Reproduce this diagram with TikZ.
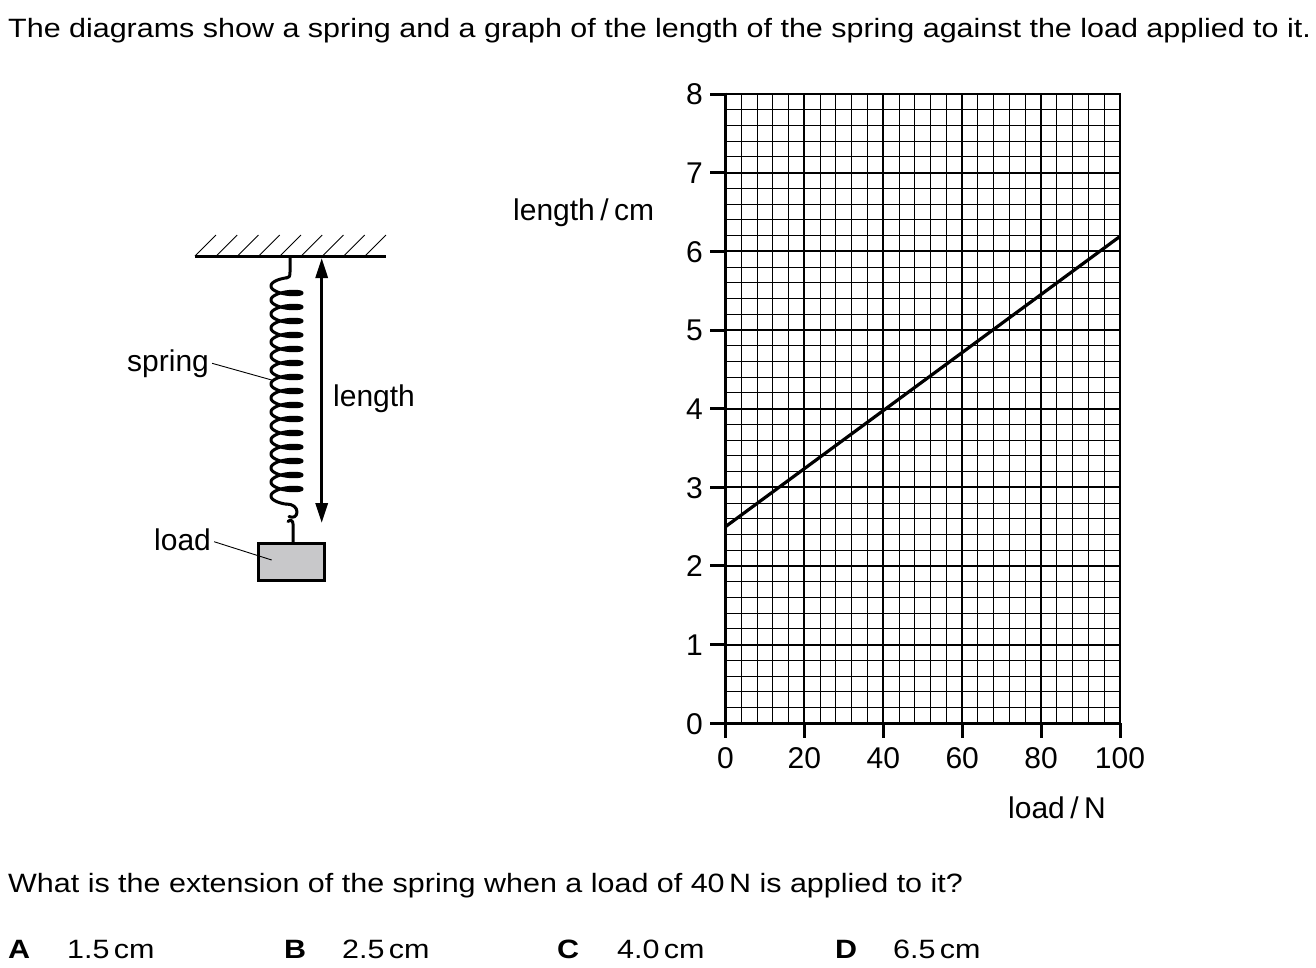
\documentclass[tikz,border=0pt]{standalone}
\usepackage{fontspec}
\setmainfont{Liberation Sans}
\newfontfamily\bodyfont[FakeStretch=1.15]{Liberation Sans}
\usetikzlibrary{arrows.meta}
\tikzset{
  minorline/.style={line width=1pt},
  majorline/.style={line width=2pt},
  axisline/.style={line width=3.5pt},
  tickline/.style={line width=3pt},
  txt/.style={inner sep=0pt, anchor=base west, font=\bodyfont\fontsize{26.5}{30}\selectfont},
  lbl/.style={inner sep=0pt, anchor=base west, font=\fontsize{30}{32}\selectfont},
  ticklbl/.style={inner sep=0pt, font=\fontsize{30}{32}\selectfont},
  leader/.style={line width=0.9pt},
  wire/.style={line width=3pt, line cap=round, line join=round},
}
\begin{document}
\begin{tikzpicture}[x=1pt,y=-1pt]
\useasboundingbox[fill=white] (0,0) rectangle (1316,967);

% ---------- texts ----------
\node[txt] (title) at (8,37.5) {The diagrams show a spring and a graph of the length of the spring against the load applied to it.};
\node[txt] (question) at (8,892.5) {What is the extension of the spring when a load of 40\,N is applied to it?};
\node[txt] (la) at (8,958.3) {\bfseries A};
\node[txt] (aa) at (67,958.3) {1.5\,cm};
\node[txt] (lb) at (284,958.3) {\bfseries B};
\node[txt] (ab) at (342,958.3) {2.5\,cm};
\node[txt] (lc) at (557,958.3) {\bfseries C};
\node[txt] (ac) at (617,958.3) {4.0\,cm};
\node[txt] (ld) at (835,958.3) {\bfseries D};
\node[txt] (ad) at (893,958.3) {6.5\,cm};

% ---------- spring diagram ----------
\draw[line width=3pt] (195,256) -- (386,256);
\foreach \k in {0,...,8} {
  \draw[line width=1pt] ({195+21.25*\k},256) -- ++(21,-21);
}
% top hook
\draw[wire] (290,257) -- (290,272) .. controls (290,276.5) and (289,278) .. (286.5,278);
% coil
\draw[wire] plot[domain=-0.5*pi:30.5*pi, samples=900, smooth, variable=\t]
  ({286.5-15.5*cos(\t r)}, {286+14*\t/(2*pi)+4.7*sin(\t r)});
% bottom hook of spring
\draw[wire] (286.5,504) .. controls (293,504) and (297,507.5) .. (297,512)
  .. controls (297,516.5) and (293,518.5) .. (289,516.5);
% load wire with hook
\draw[wire] (293,542) -- (293,524) .. controls (293,520) and (290,519.5) .. (288,521.5);
% load box
\draw[line width=3pt, fill={rgb,255:red,200;green,200;blue,202}] (258.5,543) rectangle (324,580.5);
% length arrow
\coordinate (atop) at (321.7,258);
\coordinate (abot) at (321.7,523);
\draw[line width=3pt, {Triangle[length=20pt,width=12pt]}-{Triangle[length=20pt,width=12pt]}] (atop) -- (abot);

\node[lbl] (spring) at (127,371.7) {spring};
\node[lbl] (length) at (333,406.7) {length};
\node[lbl] (load) at (154,550) {load};
\coordinate (springpt) at (271.7,380);
\coordinate (loadpt) at (271.7,560);
\draw[leader] (spring.east |- 0,363.3) ++(3,0) -- (springpt);
\draw[leader] (load.east |- 0,541.7) ++(3,0) -- (loadpt);

% ---------- graph ----------
% minor grid
\foreach \i in {1,...,24} {
  \draw[minorline] ({725.5+\i*15.78},94) -- ({725.5+\i*15.78},723.3);
}
\foreach \j in {1,...,39} {
  \draw[minorline] (725.5,{723.3-\j*15.732}) -- (1120,{723.3-\j*15.732});
}
% major grid
\foreach \i in {5,10,15,20} {
  \draw[majorline] ({725.5+\i*15.78},94) -- ({725.5+\i*15.78},723.3);
}
\foreach \j in {5,10,...,35} {
  \draw[majorline] (725.5,{723.3-\j*15.732}) -- (1120,{723.3-\j*15.732});
}
% border
\draw[majorline] (725.5,94) -- (1120,94) -- (1120,723.3);
% axes
\draw[axisline] (725.5,92.5) -- (725.5,723.3) -- (1121,723.3);
% ticks and labels
\foreach \k in {0,...,8} {
  \draw[tickline] (710,{723.3-\k*78.66}) -- (725.5,{723.3-\k*78.66});
  \node[ticklbl, anchor=base east] (ylab\k) at (703,{723.3-\k*78.66+10.8}) {\k};
}
\foreach \n in {0,20,...,100} {
  \draw[tickline] ({725.5+\n*3.945},723.3) -- ({725.5+\n*3.945},738);
  \node[ticklbl, anchor=base] (xlab\n) at ({725.5+\n*3.945},768.3) {\n};
}
\node[lbl] (ylabel) at (513,220.7) {length\hspace{5.5pt}/\hspace{5.5pt}cm};
\node[lbl] (xlabel) at (1008,818) {load\hspace{5.5pt}/\hspace{5.5pt}N};
% data line
\coordinate (p0) at (725.5,{723.3-2.5*78.66});
\coordinate (p1) at (1120,{723.3-6.19*78.66});
\draw[line width=3.2pt] (p0) -- (p1);
\end{tikzpicture}
\end{document}
